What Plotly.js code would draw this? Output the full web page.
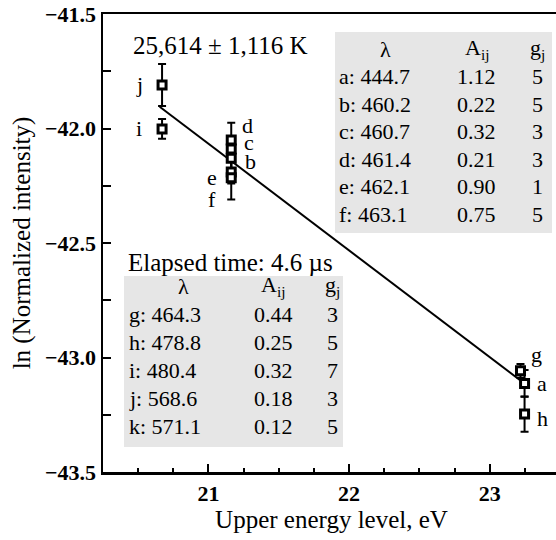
<!DOCTYPE html>
<html>
<head>
<meta charset="utf-8">
<script src="https://cdn.plot.ly/plotly-3.0.1.min.js"></script>
<style>
html,body{margin:0;padding:0;overflow:hidden;background:#fff;}
#chart{width:560px;height:540px;}
</style>
</head>
<body>
<div id="chart"></div>
<script>
// ---- data ----
const pointLabels = ['a','b','c','d','e','f','g','h','i','j'];
const upperEnergy = [23.248, 21.162, 21.162, 21.162, 21.162, 21.162, 23.219, 23.248, 20.67, 20.67];
const lnIntensity = [-43.113, -42.13, -42.09, -42.05, -42.19, -42.215, -43.058, -43.247, -42.002, -41.81];
const lnError     = [0.058, 0.05, 0.05, 0.075, 0.05, 0.095, 0.03, 0.077, 0.043, 0.092];

const fitEnergy = [20.653, 23.24];
const fitLn     = [-41.905, -43.11];

const tempText = '25,614 ± 1,116 K';
const timeText = 'Elapsed time: 4.6 µs';

const table1Lambda = ['a: 444.7','b: 460.2','c: 460.7','d: 461.4','e: 462.1','f: 463.1'];
const table1A      = ['1.12','0.22','0.32','0.21','0.90','0.75'];
const table1g      = ['5','5','3','3','1','5'];

const table2Lambda = ['g: 464.3','h: 478.8','i: 480.4','j: 568.6','k: 571.1'];
const table2A      = ['0.44','0.25','0.32','0.18','0.12'];
const table2g      = ['3','5','7','3','5'];

const tableHeaders = ['λ','A<sub>ij</sub>','g<sub>j</sub>'];

// ---- layout helpers ----
const W = 560, H = 540, ML = 103, MR = 0, MT = 14, MB = 68;
const PW = W - ML - MR, PH = H - MT - MB;
const px = x => (x - ML) / PW;
const py = y => 1 - (y - MT) / PH;
const FONT = 'Liberation Serif';

// label offsets (pixels) for point annotations
const labelShift = {
  a:[17,0], b:[19,-3], c:[18,7], d:[16,14], e:[-19,-5], f:[-19,-22],
  g:[16,16], h:[18,-4], i:[-23,0], j:[-23,0]
};

const annotations = [];
pointLabels.forEach((lab, k) => {
  annotations.push({
    x: upperEnergy[k], y: lnIntensity[k], xref:'x', yref:'y',
    text: lab, showarrow:false, xshift: labelShift[lab][0], yshift: labelShift[lab][1],
    font:{family:FONT, size:22, color:'#000'}
  });
});

function txt(x, y, text, anchor, size){
  annotations.push({x:px(x), y:py(y), xref:'paper', yref:'paper', text:text,
    showarrow:false, xanchor:anchor, yanchor:'middle',
    font:{family:FONT, size:size||22, color:'#000'}});
}

txt(131, 46, tempText, 'left', 25);
txt(126, 262, timeText, 'left', 25);

// table 1
txt(385, 49, tableHeaders[0], 'center');
txt(477, 49, tableHeaders[1], 'center');
txt(537, 49, tableHeaders[2], 'center');
table1Lambda.forEach((v,i) => {
  const y = 76.6 + 27.6*i;
  txt(337, y, v, 'left');
  txt(476, y, table1A[i], 'center');
  txt(537, y, table1g[i], 'center');
});
// table 2
txt(183, 286, tableHeaders[0], 'center');
txt(273, 286, tableHeaders[1], 'center');
txt(332, 286, tableHeaders[2], 'center');
table2Lambda.forEach((v,i) => {
  const y = 314 + 28*i;
  txt(127, y, v, 'left');
  txt(273, y, table2A[i], 'center');
  txt(332, y, table2g[i], 'center');
});

const shapes = [
  {type:'rect', xref:'paper', yref:'paper', x0:px(335), x1:px(552), y0:py(32), y1:py(233),
   fillcolor:'#e6e6e6', line:{width:0}, layer:'below'},
  {type:'rect', xref:'paper', yref:'paper', x0:px(124), x1:px(343), y0:py(276), y1:py(447),
   fillcolor:'#e6e6e6', line:{width:0}, layer:'below'}
];

const traces = [
  {x: fitEnergy, y: fitLn, mode:'lines', line:{color:'#000', width:2}, hoverinfo:'skip'},
  {x: upperEnergy, y: lnIntensity, mode:'markers',
   marker:{symbol:'square', size:8, color:'#fff', line:{color:'#000', width:3}},
   error_y:{type:'data', array: lnError, visible:true, color:'#000', thickness:2, width:4}}
];

const axisCommon = {
  showline:true, linewidth:2.5, linecolor:'#000', mirror:true,
  ticks:'inside', ticklen:8, tickwidth:2, tickcolor:'#000',
  showgrid:false, zeroline:false,
  tickfont:{family:FONT, size:22, color:'#000', weight:'bold'},
};

const layout = {
  width:W, height:H,
  margin:{l:ML, r:MR, t:MT, b:MB, pad:0},
  paper_bgcolor:'#fff', plot_bgcolor:'#fff',
  showlegend:false,
  font:{family:FONT, color:'#000'},
  xaxis: Object.assign({}, axisCommon, {
    range:[20.25, 23.5], tickmode:'linear', tick0:0, dtick:1,
    minor:{dtick:0.25, ticks:'inside', ticklen:4, tickwidth:2, tickcolor:'#000', showgrid:false},
    title:{text:'Upper energy level, eV', font:{family:FONT, size:25, color:'#000'}, standoff:6}
  }),
  yaxis: Object.assign({}, axisCommon, {
    range:[-43.5, -41.5], tickmode:'linear', tick0:0, dtick:0.5, tickformat:'.1f',
    minor:{dtick:0.25, ticks:'inside', ticklen:8, tickwidth:2, tickcolor:'#000', showgrid:false},
    title:{text:'ln (Normalized intensity)', font:{family:FONT, size:25, color:'#000'}, standoff:8}
  }),
  shapes: shapes,
  annotations: annotations
};

Plotly.newPlot('chart', traces, layout, {staticPlot:true, displayModeBar:false});
</script>
</body>
</html>
